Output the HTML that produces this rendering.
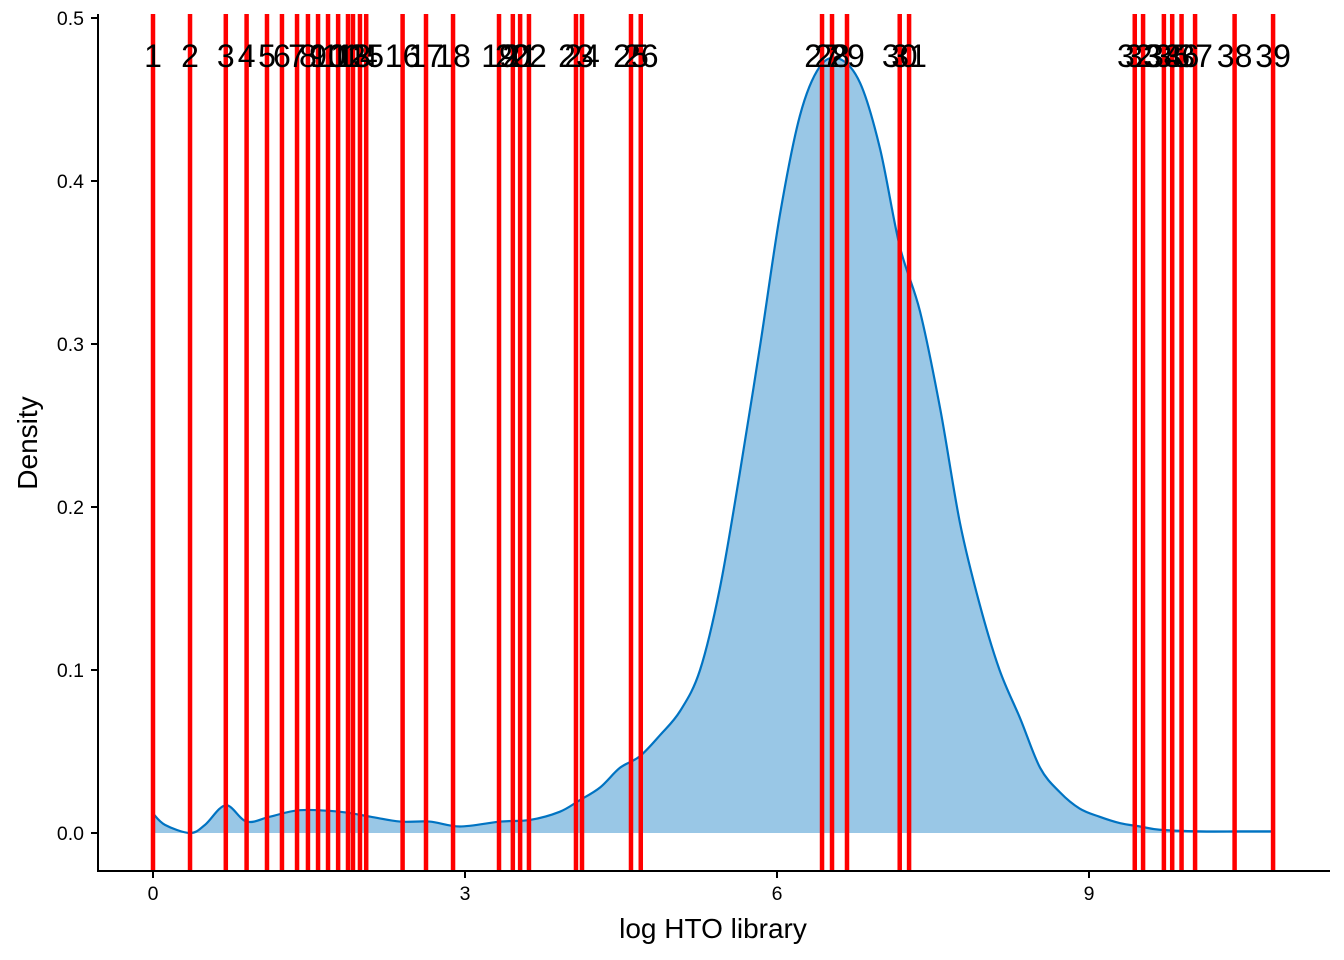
<!DOCTYPE html>
<html><head><meta charset="utf-8"><style>
body{margin:0;background:#fff;}
svg{display:block;font-family:"Liberation Sans",sans-serif;}
</style></head><body>
<svg id="chart" width="1344" height="960"></svg>
<script>
const densX=[0,0.115,0.356,0.5,0.70,0.90,1.125,1.41,1.80,2.09,2.375,2.66,2.95,3.34,3.625,3.91,4.1,4.3,4.49,4.68,4.875,5.07,5.26,5.45,5.64,5.84,6.03,6.22,6.41,6.6,6.8,6.99,7.18,7.375,7.57,7.76,7.95,8.14,8.34,8.53,8.72,8.91,9.1,9.3,9.49,9.68,10.07,10.45,10.76];
const densY=[0.012,0.005,0.0,0.005,0.017,0.007,0.01,0.014,0.013,0.01,0.007,0.007,0.004,0.007,0.008,0.013,0.02,0.028,0.04,0.047,0.06,0.075,0.1,0.15,0.22,0.3,0.38,0.44,0.47,0.475,0.46,0.42,0.36,0.32,0.26,0.19,0.14,0.1,0.07,0.04,0.025,0.015,0.01,0.006,0.004,0.002,0.001,0.001,0.001];
const cutX=[0,0.356,0.70,0.90,1.096,1.24,1.385,1.49,1.587,1.683,1.78,1.875,1.923,1.99,2.05,2.40,2.625,2.885,3.327,3.46,3.53,3.615,4.067,4.125,4.596,4.69,6.433,6.529,6.673,7.18,7.27,9.44,9.52,9.72,9.80,9.89,10.02,10.40,10.77];
const xTicks=[0,3,6,9];
const yTicks=[0.0,0.1,0.2,0.3,0.4,0.5];
const NS="http://www.w3.org/2000/svg";
const svg=document.getElementById('chart');
const sx=v=>153+v*104, sy=v=>833-v*1630;
function mk(t,a,p){const e=document.createElementNS(NS,t);for(const k in a)e.setAttribute(k,a[k]);(p||svg).appendChild(e);return e;}
const pts=densX.map((x,i)=>[sx(x),sy(densY[i])]);
function spline(p){
  let s='M'+p[0][0]+','+p[0][1];
  for(let i=0;i<p.length-1;i++){
    const p0=p[Math.max(0,i-1)],p1=p[i],p2=p[i+1],p3=p[Math.min(p.length-1,i+2)];
    const c1=[p1[0]+(p2[0]-p0[0])/6,p1[1]+(p2[1]-p0[1])/6];
    const c2=[p2[0]-(p3[0]-p1[0])/6,p2[1]-(p3[1]-p1[1])/6];
    s+=' C'+c1[0]+','+c1[1]+' '+c2[0]+','+c2[1]+' '+p2[0]+','+p2[1];
  }
  return s;
}
const curve=spline(pts);
const area=mk('path',{d:curve+' L'+pts[pts.length-1][0]+','+sy(0)+' L'+pts[0][0]+','+sy(0)+' Z',fill:'#99c7e6',stroke:'none'});


const line=mk('path',{d:curve,fill:'none',stroke:'#0073c2','stroke-width':2.2,'stroke-linejoin':'round'});


cutX.forEach((x,i)=>{
  const l=mk('line',{x1:sx(x),x2:sx(x),y1:14,y2:871,stroke:'#ff0000','stroke-width':4.5});
  
  
});
cutX.forEach((x,i)=>{
  const t=mk('text',{x:sx(x),y:67,'text-anchor':'middle','font-size':32,fill:'#000'});
  t.textContent=String(i+1);
  
  
});
const ya=mk('line',{x1:98,x2:98,y1:14,y2:872,stroke:'#000','stroke-width':2});


const xa=mk('line',{x1:97,x2:1330,y1:871,y2:871,stroke:'#000','stroke-width':2});


xTicks.forEach(v=>{
  mk('line',{x1:sx(v),x2:sx(v),y1:871,y2:878,stroke:'#000','stroke-width':2});
  const t=mk('text',{x:sx(v),y:900,'text-anchor':'middle','font-size':19.5,fill:'#000'});
  t.textContent=v;
  
  
});
yTicks.forEach(v=>{
  mk('line',{x1:91,x2:98,y1:sy(v),y2:sy(v),stroke:'#000','stroke-width':2});
  const t=mk('text',{x:84,y:sy(v)+7,'text-anchor':'end','font-size':19.5,fill:'#000'});
  t.textContent=v.toFixed(1);
  
  
});
const xt=mk('text',{x:713,y:938,'text-anchor':'middle','font-size':28,fill:'#000'});
xt.textContent='log HTO library';


const yt=mk('text',{x:0,y:0,'text-anchor':'middle','font-size':28,fill:'#000',transform:'translate(37,443) rotate(-90)'});
yt.textContent='Density';


</script>
</body></html>
